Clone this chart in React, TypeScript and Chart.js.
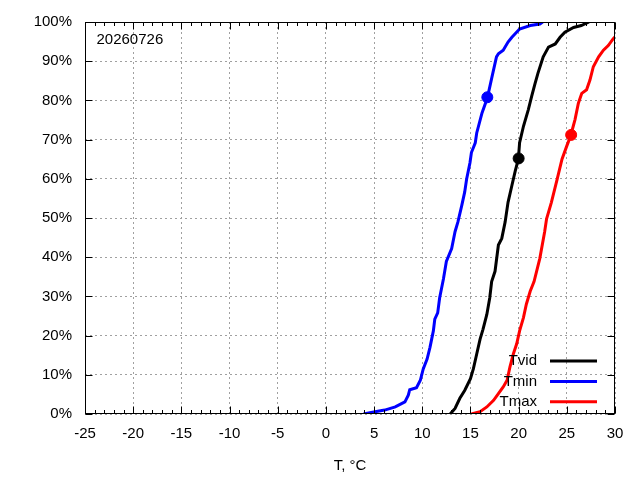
import React, { useEffect, useRef } from "react";
import { Chart, registerables } from "chart.js";

Chart.register(...registerables);

const FONT = "'Liberation Sans', Arial, sans-serif";

const dateLabel = "20260726";
const xTitle = "T, °C";
const xTickValues = [-25, -20, -15, -10, -5, 0, 5, 10, 15, 20, 25, 30];
const yTickValues = [0, 10, 20, 30, 40, 50, 60, 70, 80, 90, 100];

// cumulative share (%) of days with temperature below T
const tvidT = [12.9, 13.4, 13.9, 14.4, 15.0, 15.3, 15.65, 16.0, 16.3, 16.7, 17.0, 17.2, 17.55, 17.9, 18.25, 18.6, 18.9, 19.3, 19.65, 19.97, 20.1, 20.5, 21.0, 21.35, 21.7, 22.0, 22.55, 23.1, 23.8, 24.3, 24.8, 25.7, 26.5, 27.3];
const tvidP = [0, 1.4, 4, 6, 9, 11.5, 15.3, 19.1, 21.6, 25.4, 29.6, 33.8, 36.4, 43.1, 44.8, 49, 54, 58.3, 62, 65, 69.2, 73.4, 77.6, 81, 84.3, 86.9, 91.1, 93.6, 94.4, 96.1, 97.4, 98.6, 99.1, 100];

const tminT = [3.9, 5.1, 6.1, 7.2, 8.2, 8.55, 8.7, 9.4, 9.8, 10.1, 10.5, 10.8, 11.15, 11.3, 11.6, 11.8, 12.2, 12.5, 13.05, 13.4, 13.7, 14.1, 14.4, 14.6, 14.95, 15.1, 15.5, 15.65, 16.2, 16.75, 17.2, 17.7, 17.9, 18.4, 18.9, 19.3, 20.1, 21.2, 22.2, 22.5];
const tminP = [0, 0.6, 1, 1.8, 3.1, 4.8, 6.2, 6.7, 8.6, 11.5, 14, 17, 21.2, 24.2, 25.8, 29.6, 34.5, 38.9, 42.2, 46.5, 49, 53.2, 56.6, 59.9, 64.1, 66.7, 69.2, 71.7, 76.8, 80.6, 85.6, 91.1, 91.9, 92.8, 94.9, 96.1, 98.2, 99.1, 99.5, 100];

const tmaxT = [15.1, 16.0, 16.7, 17.4, 17.9, 18.4, 18.8, 19.1, 19.45, 19.8, 20.1, 20.5, 20.8, 21.2, 21.6, 22.2, 22.7, 22.9, 23.4, 24.0, 24.5, 25.0, 25.4, 25.85, 26.2, 26.55, 27.05, 27.4, 27.75, 28.3, 28.8, 29.3, 29.8, 30.3];
const tmaxP = [0, 0.6, 1.8, 3.5, 5.2, 6.9, 8.6, 12, 15.3, 17.9, 21.2, 24.6, 28, 31.3, 33.8, 39.7, 46.5, 49.8, 54, 59.9, 65, 68.4, 71, 75.1, 79.3, 81.8, 82.7, 85.2, 88.6, 91.1, 92.8, 94, 95.7, 97];

// today's values
const seriesNames = ["Tvid", "Tmin", "Tmax"];
const seriesColors = ["#000000", "#0000ff", "#ff0000"];
const todayT = [20.0, 16.75, 25.45];
const todayP = [65.2, 80.8, 71.2];

const toPoints = (xs: number[], ys: number[]) => xs.map((x, i) => ({ x, y: ys[i] }));

const gnuplotFrame = {
  id: "gnuplotFrame",
  afterDraw(chart: any) {
    const { ctx, chartArea, scales } = chart;
    const l = Math.round(chartArea.left) + 0.5;
    const r = Math.round(chartArea.right) - 0.5;
    const t = Math.round(chartArea.top) + 0.5;
    const b = Math.round(chartArea.bottom) - 0.5;
    ctx.save();
    ctx.strokeStyle = "#000";
    ctx.lineWidth = 1;
    ctx.beginPath();
    // x ticks (major + minor), bottom and top
    for (let v = xTickValues[0]; v <= xTickValues[xTickValues.length - 1]; v++) {
      const px = Math.round(scales.x.getPixelForValue(v)) + 0.5;
      const len = v % 5 === 0 ? 7 : 3.5;
      ctx.moveTo(px, b);
      ctx.lineTo(px, b - len);
      ctx.moveTo(px, t);
      ctx.lineTo(px, t + len);
    }
    // y ticks, left and right
    yTickValues.forEach((v) => {
      const py = Math.round(scales.y.getPixelForValue(v)) + 0.5;
      ctx.moveTo(l, py);
      ctx.lineTo(l + 7, py);
      ctx.moveTo(r, py);
      ctx.lineTo(r - 7, py);
    });
    ctx.stroke();
    ctx.strokeRect(l, t, r - l, b - t);

    // date label
    ctx.fillStyle = "#000";
    ctx.font = `15px ${FONT}`;
    ctx.textBaseline = "middle";
    ctx.textAlign = "left";
    ctx.fillText(dateLabel, l + 11, t + 17);

    // legend, gnuplot style: text then line sample
    ctx.textAlign = "right";
    ctx.lineWidth = 3;
    seriesNames.forEach((name, i) => {
      const y = 361 + i * 20.4;
      ctx.fillStyle = "#000";
      ctx.fillText(name, 537, y);
      ctx.strokeStyle = seriesColors[i];
      ctx.beginPath();
      ctx.moveTo(550, y);
      ctx.lineTo(597, y);
      ctx.stroke();
    });
    ctx.restore();
  },
};

export default function App() {
  const canvasRef = useRef<HTMLCanvasElement>(null);

  useEffect(() => {
    const lines = [
      { label: "Tvid", data: toPoints(tvidT, tvidP), color: seriesColors[0] },
      { label: "Tmin", data: toPoints(tminT, tminP), color: seriesColors[1] },
      { label: "Tmax", data: toPoints(tmaxT, tmaxP), color: seriesColors[2] },
    ];
    const markers = seriesNames.map((name, i) => ({
      type: "scatter",
      label: name + " today",
      data: [{ x: todayT[i], y: todayP[i] }],
      backgroundColor: seriesColors[i],
      borderColor: seriesColors[i],
      pointRadius: 5.5,
      pointHoverRadius: 5.5,
      showLine: false,
      order: 0,
    }));

    const config: any = {
      type: "line",
      data: {
        datasets: [
          ...markers,
          ...lines.map((s) => ({
            label: s.label,
            data: s.data,
            borderColor: s.color,
            backgroundColor: s.color,
            borderWidth: 3,
            pointRadius: 0,
            tension: 0,
            fill: false,
            clip: 0,
            order: 1,
          })),
        ],
      },
      options: {
        animation: false,
        responsive: true,
        maintainAspectRatio: false,
        layout: { padding: { top: 18, right: 25, left: 0, bottom: 0 } },
        plugins: {
          legend: { display: false },
          title: { display: false },
          tooltip: { enabled: false },
        },
        scales: {
          x: {
            type: "linear",
            min: -25,
            max: 30,
            afterBuildTicks: (s: any) => {
              s.ticks = xTickValues.map((v) => ({ value: v }));
            },
            afterFit: (s: any) => {
              s.height = 66;
            },
            ticks: {
              color: "#000",
              font: { family: FONT, size: 15 },
              padding: 11,
              maxRotation: 0,
              autoSkip: false,
            },
            grid: {
              color: "#a0a0a0",
              lineWidth: 1,
              drawTicks: false,
            },
            border: { display: false, dash: [2, 3] },
            title: {
              display: true,
              text: xTitle,
              color: "#000",
              font: { family: FONT, size: 15 },
              padding: { top: 0, bottom: 5 },
            },
          },
          y: {
            type: "linear",
            min: 0,
            max: 100,
            afterBuildTicks: (s: any) => {
              s.ticks = yTickValues.map((v) => ({ value: v }));
            },
            afterFit: (s: any) => {
              s.width = 85;
            },
            ticks: {
              color: "#000",
              font: { family: FONT, size: 15 },
              padding: 13,
              autoSkip: false,
              callback: (v: number) => v + "%",
            },
            grid: {
              color: "#a0a0a0",
              lineWidth: 1,
              drawTicks: false,
            },
            border: { display: false, dash: [2, 3] },
          },
        },
      },
      plugins: [gnuplotFrame],
    };

    const chart = new Chart(canvasRef.current as HTMLCanvasElement, config);
    return () => chart.destroy();
  }, []);

  return (
    <div style={{ position: "absolute", left: 0, top: 0, width: 640, height: 480, background: "#fff" }}>
      <canvas ref={canvasRef}></canvas>
    </div>
  );
}
